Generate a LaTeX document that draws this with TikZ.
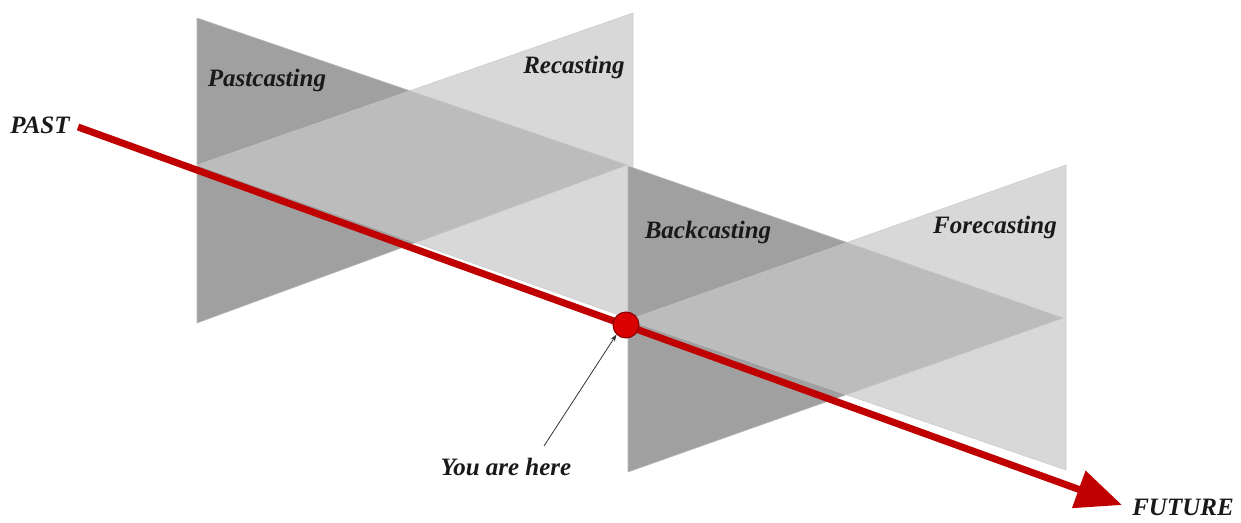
\documentclass[tikz,border=0pt]{standalone}
\usepackage{fontspec}
\setmainfont{Liberation Serif}
\usetikzlibrary{arrows.meta}
\definecolor{darkpane}{HTML}{A0A0A0}
\definecolor{lightpane}{HTML}{C8C8C8}
\definecolor{timered}{HTML}{C00000}
\definecolor{dotred}{HTML}{D80000}
\tikzset{
  darktri/.style={fill=darkpane, draw=gray!55, line width=0.6pt},
  lighttri/.style={fill=lightpane, fill opacity=0.7, draw=gray!45, draw opacity=0.8, line width=0.6pt},
  lbl/.style={font=\fontsize{25}{30}\selectfont\bfseries\itshape, text=black!90, inner sep=0pt},
  timeline/.style={draw=timered, line width=7pt, -{Triangle[length=46pt,width=38pt]}},
}
\begin{document}
\begin{tikzpicture}[x=1pt,y=-1pt]
\useasboundingbox (0,0) rectangle (1241,522);
% left pair of panes
\draw[darktri] (197,18) -- (197,323) -- (627,165) -- cycle;
\draw[lighttri] (633,13) -- (633,320) -- (197,165) -- cycle;
% right pair of panes
\draw[darktri] (628,166) -- (628,472) -- (1063,318) -- cycle;
\draw[lighttri] (1066,165) -- (1066,470) -- (628,320) -- cycle;
% labels
\node[lbl] (past) at (40,125) {PAST};
\node[lbl] (future) at (1183,507) {FUTURE};
\node[lbl] (pastc) at (267,80) {Pastcasting};
\node[lbl] (rec) at (574,67) {Recasting};
\node[lbl] (back) at (708,232) {Backcasting};
\node[lbl] (fore) at (995,227) {Forecasting};
\node[lbl] (here) at (506,467) {You are here};
% timeline
\coordinate (start) at (78,127);
\coordinate (tip) at (1122,505);
\draw[timeline] (start) -- (tip);
\node[circle, fill=dotred, draw=timered!70!black, line width=1pt, minimum size=26pt, inner sep=0pt] (dot) at (626,325) {};
% pointer
\draw[-{Stealth[length=7pt,width=5pt]}, line width=0.8pt, black!80] (here.north) ++(38,-12) coordinate (hs) -- (dot.south west);
\end{tikzpicture}
\end{document}
